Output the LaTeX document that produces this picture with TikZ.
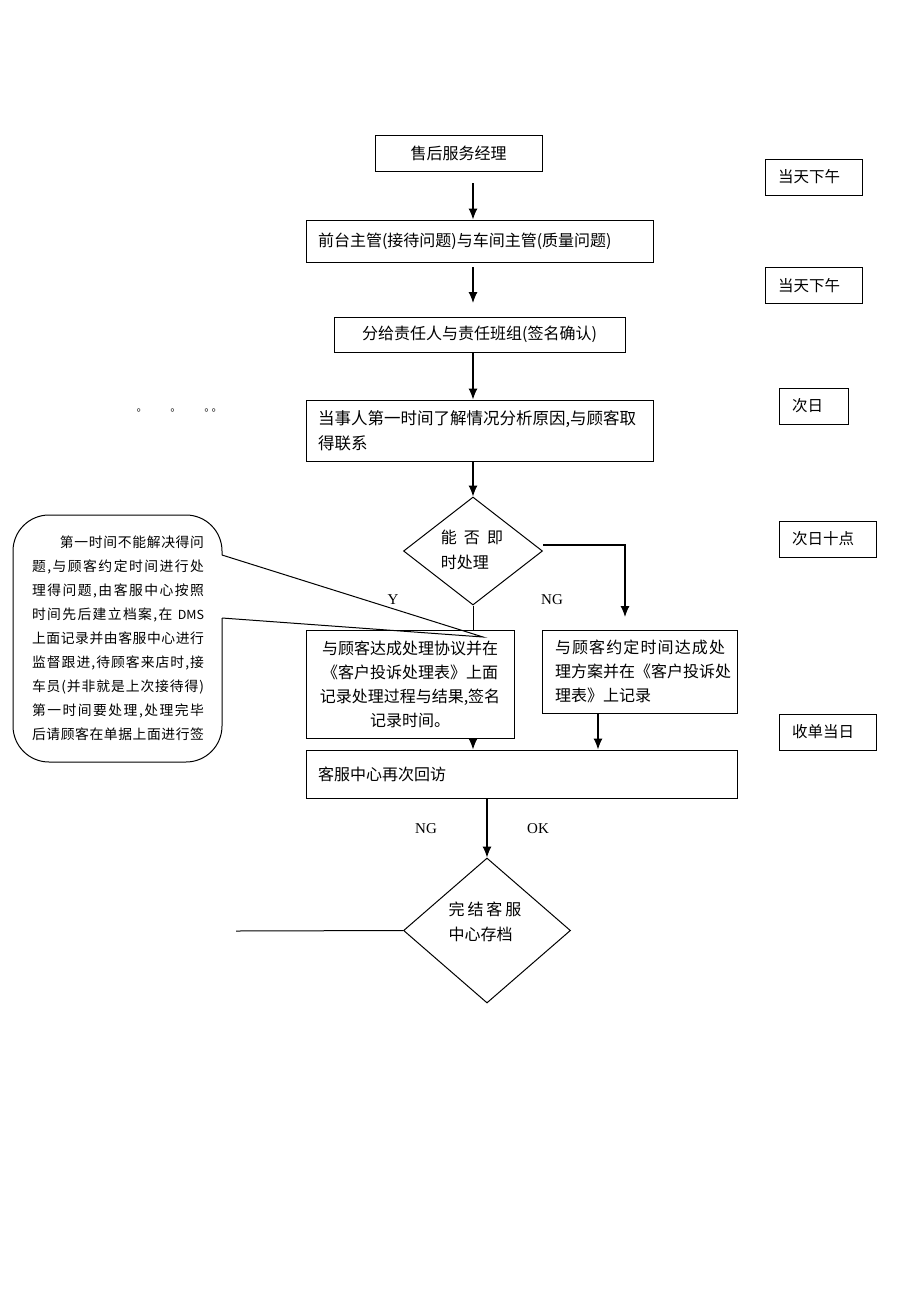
\documentclass[tikz,border=0pt]{standalone}
\usepackage{fontspec}
\setmainfont{Liberation Serif}
\newfontfamily\cjk{Noto Sans CJK SC}
\usetikzlibrary{arrows.meta,shapes.geometric}
% spread the characters of a line evenly
\def\spr#1{\sprB#1\relax}
\def\sprB#1{#1\sprC}
\def\sprC#1{\ifx#1\relax\else\hfil#1\expandafter\sprC\fi}
\newcommand\calline[1]{\makebox[172pt][s]{#1}}
\begin{document}
\begin{tikzpicture}[x=1pt,y=-1pt,
  every path/.style={line width=1pt},
  box/.style={draw, line width=1pt, inner ysep=0pt, inner xsep=12pt, font=\cjk\fontsize{16}{24}\selectfont},
  rbox/.style={draw, line width=1pt, inner ysep=0pt, inner xsep=13pt, align=left, minimum height=36pt, font=\cjk\fontsize{15.5}{20}\selectfont},
  dia/.style={draw, diamond, line width=1pt, inner sep=0pt},
  dtext/.style={align=left, font=\cjk\fontsize{16}{25}\selectfont},
  lbl/.style={font=\fontsize{15}{18}\selectfont},
  arr/.style={-{Latex[length=11pt,width=9pt]}, line width=1.1pt}
]
\useasboundingbox (0,0) rectangle (920,1302);

% main boxes
\node[box, minimum width=167pt, minimum height=36pt] (b1) at (458.5,153) {售后服务经理};
\node[box, text width=323pt, align=left, minimum height=42pt] (b2) at (479.5,241) {前台主管(接待问题)与车间主管(质量问题)};
\node[box, minimum width=291pt, minimum height=35pt] (b3) at (479.5,334.5) {分给责任人与责任班组(签名确认)};
\node[box, text width=323pt, align=left, minimum height=61pt, font=\cjk\fontsize{16.5}{25}\selectfont] (b4) at (479.5,430.5) {当事人第一时间了解情况分析原因,与顾客取\\得联系};
\node[dia, minimum width=139pt, minimum height=108pt] (d1) at (473,551) {};
\node[dtext] (d1t) at (472,550) {能\hspace{0.45em}否\hspace{0.45em}即\\时处理};
\node[box, inner xsep=8pt, text width=192pt, align=center, minimum height=108pt] (b5) at (410,684) {与顾客达成处理协议并在\\《客户投诉处理表》上面\\记录处理过程与结果,签名\\记录时间。};
\node[box, inner xsep=13pt, text width=169pt, align=left, minimum height=83pt, font=\cjk\fontsize{16}{24}\selectfont] (b6) at (639.5,671.5) {\makebox[170pt][s]{\spr{与顾客约定时间达成处}}\\理方案并在《客户投诉处\\理表》上记录};
\node[box, text width=407pt, align=left, minimum height=48pt] (b7) at (521.5,774) {客服中心再次回访\\[-4pt]};
\node[dia, minimum width=167pt, minimum height=145pt] (d2) at (487,930.5) {};
\node[dtext] (d2t) at (485,922) {完\hspace{0.18em}结\hspace{0.18em}客\hspace{0.18em}服\\中心存档};

% right side time boxes
\node[rbox, text width=71pt] (r1) at (813.5,177) {当天下午};
\node[rbox, text width=71pt] (r2) at (813.5,285.5) {当天下午};
\node[rbox, text width=43pt] (r3) at (813.5,406) {次日};
\node[rbox, text width=71pt] (r4) at (827.5,539) {次日十点};
\node[rbox, text width=71pt] (r5) at (827.5,732) {收单当日};

% small marks
\node[font=\cjk\fontsize{11}{11}\selectfont, anchor=west, inner sep=0pt] (dots) at (136,410) {。\hspace{23pt}。\hspace{23pt}。\hspace{-4pt}。};

% connectors
\coordinate (a1s) at (473,183);
\coordinate (a2s) at (473,267);
\coordinate (a2e) at (473,303);
\draw[arr] (a1s) -- (a1s |- b2.north);
\draw[arr] (a2s) -- (a2e);
\draw[arr] (b3.south -| a1s) -- (b4.north -| a1s);
\draw[arr] (b4.south -| a1s) -- (d1.north);
\coordinate (ngc) at (625,545);
\coordinate (nge) at (625,617);
\draw[arr] (d1.east |- ngc) -- (ngc) -- (nge);
\draw (d1.south) -- (b5.north -| d1.south);
\draw[arr] (b5.south -| d1.south) -- (b7.north -| d1.south);
\coordinate (b6x) at (598,0);
\draw[arr] (b6.south -| b6x) -- (b7.north -| b6x);
\draw[arr] (b7.south -| d2.north) -- (d2.north);
\coordinate (ngl) at (236,931);
\draw (ngl) -- (d2.west);

% labels
\node[lbl] (ly) at (393,600) {Y};
\node[lbl] (lng1) at (552,600) {NG};
\node[lbl] (lng2) at (426,829) {NG};
\node[lbl] (lok) at (538,829) {OK};

% callout
\coordinate (tip) at (483,637);
\draw[rounded corners=36pt] (222,618) -- (222,762) -- (13,762) -- (13,515) -- (222,515) -- (222,555);
\draw (222,555) -- (tip) -- (222,618);
\node[font=\cjk\fontsize{13.8}{24}\selectfont, align=left, inner sep=0pt] (ct) at (118,638) {%
\calline{\hspace*{28pt}\spr{第一时间不能解决得问}}\\
\calline{\spr{题,与顾客约定时间进行处}}\\
\calline{\spr{理得问题,由客服中心按照}}\\
\calline{\spr{时间先后建立档案,在}\hfil\hspace{4pt}{\fontsize{12.5}{13}\selectfont DMS}}\\
\calline{\spr{上面记录并由客服中心进行}}\\
\calline{\spr{监督跟进,待顾客来店时,接}}\\
\calline{\spr{车员(并非就是上次接待得)}}\\
\calline{\spr{第一时间要处理,处理完毕}}\\
\calline{\spr{后请顾客在单据上面进行签}}};
\end{tikzpicture}
\end{document}
